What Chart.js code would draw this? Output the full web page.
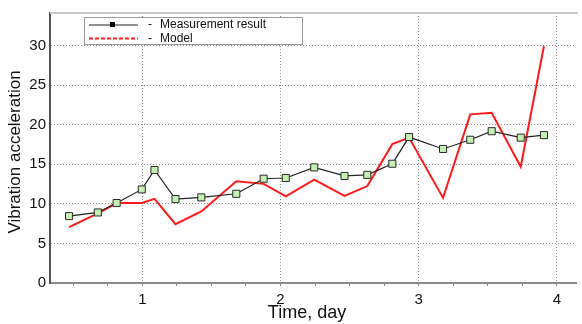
<!DOCTYPE html>
<html><head><meta charset="utf-8">
<script src="https://cdn.jsdelivr.net/npm/chart.js@4"></script>
<style>html,body{margin:0;padding:0;background:#fff}#wrap{width:582px;height:324px}</style>
</head><body><div id="wrap"><canvas id="c" width="582" height="324"></canvas></div>
<script>
const days = [0.470, 0.678, 0.814, 0.996, 1.088, 1.240, 1.427, 1.680, 1.878, 2.038, 2.244, 2.463, 2.628, 2.809, 2.930, 3.176, 3.373, 3.528, 3.738, 3.906];
const measured = [8.45, 8.91, 10.10, 11.82, 14.27, 10.60, 10.81, 11.27, 13.17, 13.26, 14.60, 13.52, 13.66, 15.06, 18.43, 16.93, 18.09, 19.17, 18.36, 18.68];
const model = [7.05, 8.79, 10.10, 10.10, 10.62, 7.42, 9.03, 12.85, 12.52, 10.93, 13.05, 10.99, 12.24, 17.54, 18.36, 10.75, 21.30, 21.49, 14.69, 29.90];
const seriesNames = ['Measurement result', 'Model'];
const xTickValues = [0.5, 0.75, 1, 1.25, 1.5, 1.75, 2, 2.25, 2.5, 2.75, 3, 3.25, 3.5, 3.75, 4];
const yTickValues = [0, 5, 10, 15, 20, 25, 30];
const xTitle = 'Time, day';
const yTitle = 'Vibration acceleration';

const FONT = "'Liberation Sans', Arial, sans-serif";

const decor = {
  id: 'decor',
  afterDraw(chart) {
    const ctx = chart.ctx, a = chart.chartArea;
    ctx.save();
    // top border
    ctx.strokeStyle = '#c8c8c8'; ctx.lineWidth = 2;
    ctx.beginPath(); ctx.moveTo(a.left, a.top); ctx.lineTo(a.right + 2, a.top); ctx.stroke();
    // axis titles
    ctx.fillStyle = '#111';
    ctx.font = '18px ' + FONT;
    ctx.textAlign = 'center'; ctx.textBaseline = 'middle';
    ctx.fillText(xTitle, 307, 313);
    ctx.save();
    ctx.translate(15, 152); ctx.rotate(-Math.PI / 2);
    ctx.font = '17px ' + FONT;
    ctx.fillText(yTitle, 0, 0);
    ctx.restore();
    // legend
    const bx = 84.5, by = 17.5, bw = 218, bh = 27;
    ctx.fillStyle = '#fff'; ctx.fillRect(bx, by, bw, bh);
    ctx.strokeStyle = '#999'; ctx.lineWidth = 1; ctx.strokeRect(bx, by, bw, bh);
    // row 1
    ctx.strokeStyle = '#222'; ctx.lineWidth = 1.2; ctx.setLineDash([]);
    ctx.beginPath(); ctx.moveTo(89, 25); ctx.lineTo(138, 25); ctx.stroke();
    ctx.fillStyle = '#000'; ctx.fillRect(110, 22, 5, 5);
    // row 2
    ctx.strokeStyle = '#ff2020'; ctx.lineWidth = 2; ctx.setLineDash([4, 2]);
    ctx.beginPath(); ctx.moveTo(89, 38.5); ctx.lineTo(138, 38.5); ctx.stroke();
    ctx.setLineDash([]);
    ctx.fillStyle = '#111'; ctx.font = '12px ' + FONT; ctx.textAlign = 'left'; ctx.textBaseline = 'middle';
    ctx.fillText('-', 148, 25); ctx.fillText(seriesNames[0], 160, 25);
    ctx.fillText('-', 148, 38.5); ctx.fillText(seriesNames[1], 160, 38.5);
    ctx.restore();
  }
};

new Chart(document.getElementById('c'), {
  type: 'scatter',
  data: {
    datasets: [
      {
        label: seriesNames[0],
        data: days.map((d, i) => ({ x: d, y: measured[i] })),
        showLine: true,
        borderColor: '#222',
        borderWidth: 1.2,
        pointStyle: 'rect',
        pointRadius: 5,
        pointBorderWidth: 1,
        pointBorderColor: '#2a2a2a',
        pointBackgroundColor: '#c4f0b2',
        order: 0
      },
      {
        label: seriesNames[1],
        data: days.map((d, i) => ({ x: d, y: model[i] })),
        showLine: true,
        borderColor: '#ff1a1a',
        borderWidth: 2,
        pointRadius: 0,
        order: 1
      }
    ]
  },
  options: {
    responsive: false,
    animation: false,
    layout: { padding: { top: 5, right: 1, left: 0, bottom: 0 } },
    plugins: { legend: { display: false }, tooltip: { enabled: false } },
    scales: {
      x: {
        type: 'linear', min: 0.332, max: 4.138,
        afterBuildTicks: s => { s.ticks = xTickValues.map(v => ({ value: v })); },
        afterFit: s => { s.height = 41; },
        ticks: {
          autoSkip: false, maxRotation: 0, padding: 5, color: '#111',
          font: { family: FONT, size: 15 },
          callback: v => Number.isInteger(v) ? String(v) : ''
        },
        grid: {
          color: c => (c.tick && Number.isInteger(c.tick.value)) ? '#8c8c8c' : 'rgba(0,0,0,0)',
          lineWidth: 1,
          drawTicks: true, tickLength: 3,
          tickColor: '#888'
        },
        border: { display: true, color: '#8a8a8a', width: 2, dash: [1, 2] }
      },
      y: {
        type: 'linear', min: 0, max: 34.1,
        afterBuildTicks: s => { s.ticks = yTickValues.map(v => ({ value: v })); },
        afterFit: s => { s.width = 50; },
        ticks: { padding: 4, color: '#111', font: { family: FONT, size: 15 } },
        grid: { color: '#8c8c8c', lineWidth: 1, drawTicks: false },
        border: { display: true, color: '#555', width: 2, dash: [1, 2] }
      }
    }
  },
  plugins: [decor]
});
</script></body></html>
